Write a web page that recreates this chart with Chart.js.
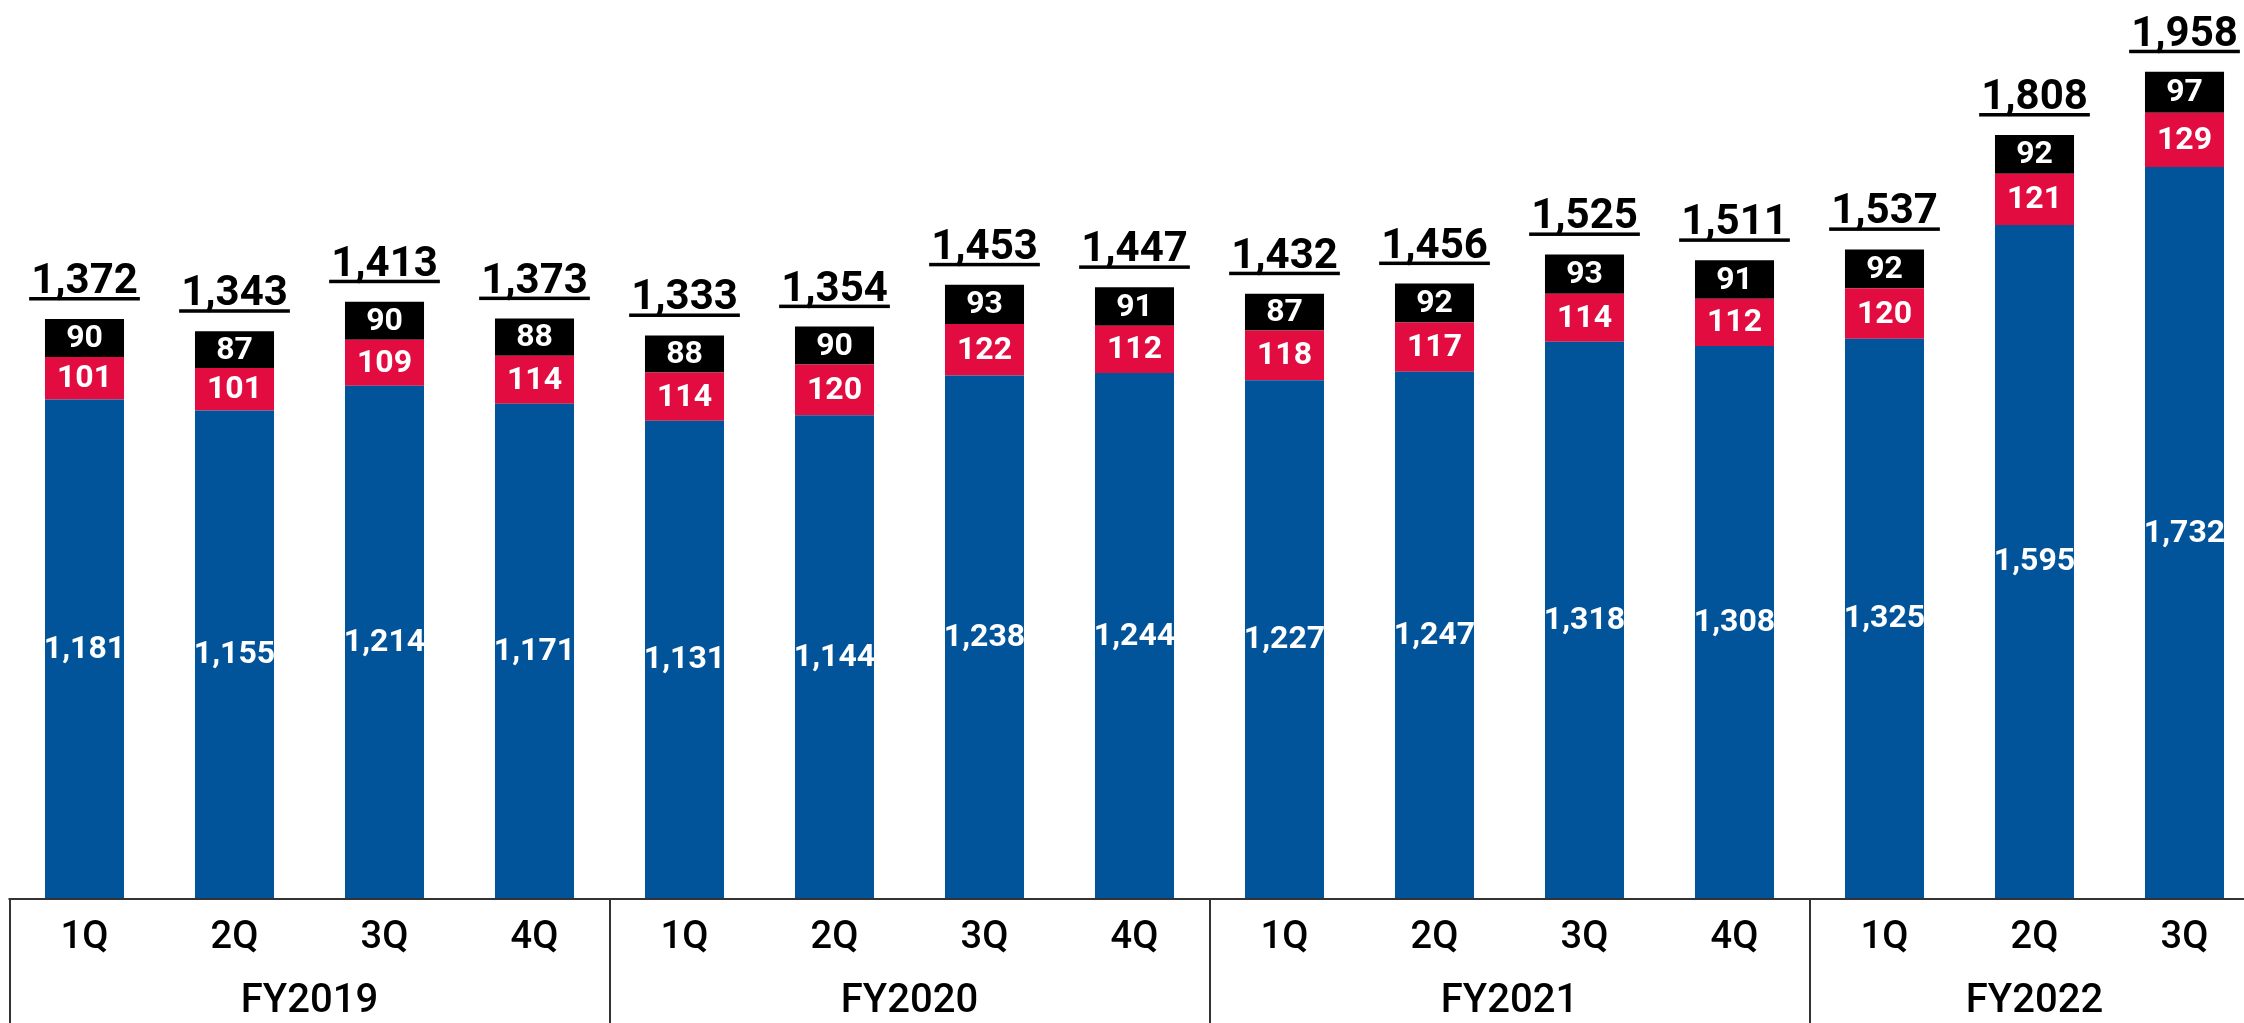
<!DOCTYPE html>
<html>
<head>
<meta charset="utf-8">
<script src="https://cdn.jsdelivr.net/npm/chart.js@4"></script>
<style>
  html, body { margin: 0; padding: 0; background: #fff; overflow: hidden; }
  #wrap { position: absolute; left: 0; top: 0; width: 2260px; height: 1023px; }
</style>
</head>
<body>
<div id="wrap"><canvas id="chart"></canvas></div>
<script>
const quarters = ['1Q','2Q','3Q','4Q','1Q','2Q','3Q','4Q','1Q','2Q','3Q','4Q','1Q','2Q','3Q'];
const years = ['FY2019','FY2020','FY2021','FY2022'];
const yearSizes = [4, 4, 4, 3];
const blueVals = [1181,1155,1214,1171,1131,1144,1238,1244,1227,1247,1318,1308,1325,1595,1732];
const redVals = [101,101,109,114,114,120,122,112,118,117,114,112,120,121,129];
const blackVals = [90,87,90,88,88,90,93,91,87,92,93,91,92,92,97];
const totals = [1372,1343,1413,1373,1333,1354,1453,1447,1432,1456,1525,1511,1537,1808,1958];

const FONT = 'Roboto';
const fmt = v => v.toLocaleString('en-US');

const labelsPlugin = {
  id: 'labels',
  afterDatasetsDraw(chart) {
    const ctx = chart.ctx;
    ctx.save();
    ctx.fillStyle = '#fff';
    ctx.font = `700 32px ${FONT}`;
    ctx.textAlign = 'center';
    ctx.textBaseline = 'middle';
    chart.data.datasets.forEach((ds, di) => {
      chart.getDatasetMeta(di).data.forEach((bar, i) => {
        ctx.fillText(fmt(ds.data[i]), bar.x, (bar.y + bar.base) / 2 + 1);
      });
    });
    // totals with underline
    const top = chart.getDatasetMeta(2).data;
    ctx.fillStyle = '#000';
    ctx.font = `700 42px ${FONT}`;
    ctx.textBaseline = 'alphabetic';
    top.forEach((bar, i) => {
      const t = fmt(totals[i]);
      const w = ctx.measureText(t).width;
      const by = bar.y - 26;
      ctx.fillText(t, bar.x, by);
      ctx.fillRect(bar.x - w / 2 - 2, by + 4, w + 4, 3.5);
    });
    ctx.restore();
  },
  afterDraw(chart) {
    const ctx = chart.ctx;
    const x = chart.scales.x;
    const area = chart.chartArea;
    const half = (x.getPixelForValue(1) - x.getPixelForValue(0)) / 2;
    ctx.save();
    ctx.strokeStyle = '#333';
    ctx.lineWidth = 2;
    ctx.beginPath();
    ctx.moveTo(area.left - 1, area.bottom + 1);
    ctx.lineTo(chart.width, area.bottom + 1);
    let idx = 0;
    const starts = [];
    yearSizes.forEach(n => { starts.push(idx); idx += n; });
    starts.forEach(s => {
      const lx = Math.round(x.getPixelForValue(s) - half);
      ctx.moveTo(lx, area.bottom);
      ctx.lineTo(lx, chart.height);
    });
    ctx.stroke();
    ctx.fillStyle = '#000';
    ctx.font = `500 40px ${FONT}`;
    ctx.textAlign = 'center';
    ctx.textBaseline = 'middle';
    years.forEach((y, k) => {
      const s = starts[k], n = yearSizes[k];
      const cx = (x.getPixelForValue(s) + x.getPixelForValue(s + n - 1)) / 2;
      ctx.fillText(y, cx, area.bottom + 104);
    });
    ctx.restore();
  }
};

new Chart(document.getElementById('chart'), {
  type: 'bar',
  data: {
    labels: quarters,
    datasets: [
      { data: blueVals, backgroundColor: '#02549a' },
      { data: redVals, backgroundColor: '#e20c40' },
      { data: blackVals, backgroundColor: '#000000' }
    ]
  },
  options: {
    responsive: true,
    maintainAspectRatio: false,
    animation: false,
    devicePixelRatio: 1,
    datasets: { bar: { categoryPercentage: 1, barPercentage: 0.527 } },
    layout: { padding: { left: 9.5, right: 0.5, top: 54, bottom: 0 } },
    plugins: { legend: { display: false }, tooltip: { enabled: false } },
    scales: {
      x: {
        stacked: true,
        grid: { display: false, drawTicks: false },
        border: { display: false },
        ticks: { color: '#000', font: { family: FONT, size: 38, weight: '500' }, padding: 18, maxRotation: 0, autoSkip: false },
        afterFit(scale) { scale.height = 125; }
      },
      y: { stacked: true, display: false, min: 0, max: 2000 }
    }
  },
  plugins: [labelsPlugin]
});
</script>
</body>
</html>
